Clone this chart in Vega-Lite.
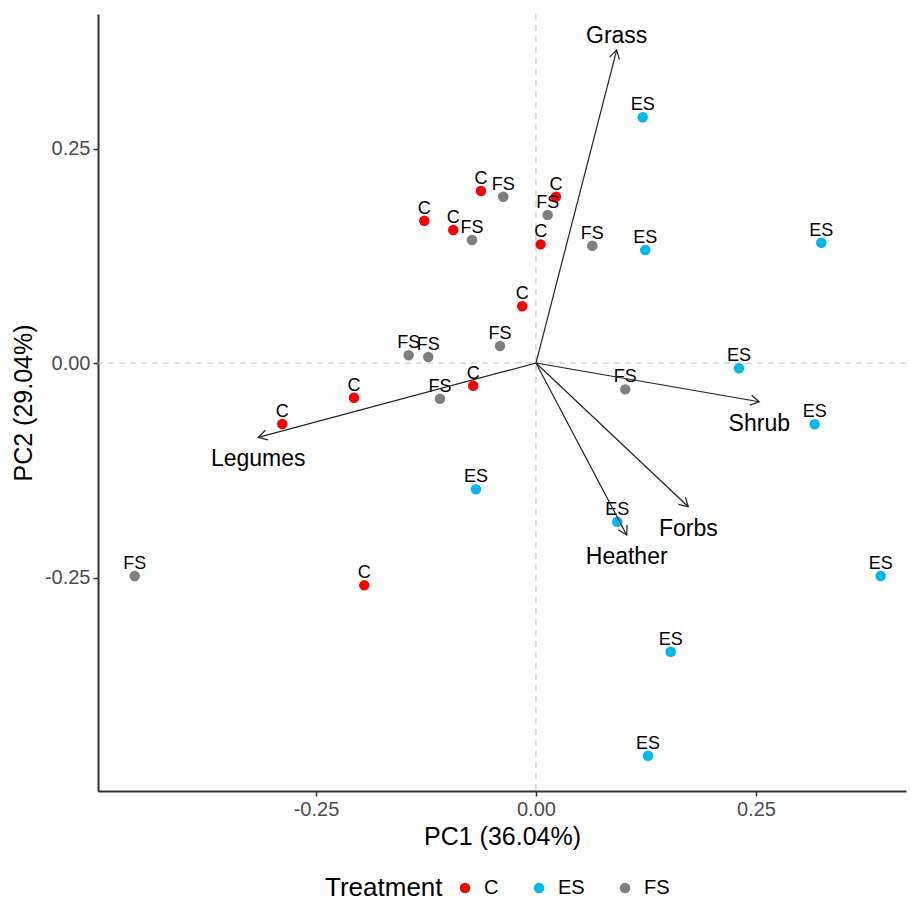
{
  "$schema": "https://vega.github.io/schema/vega-lite/v6.json",
  "width": 808,
  "height": 777,
  "autosize": {"type": "none"},
  "padding": {"left": 98, "top": 14, "right": 5, "bottom": 115},
  "background": "white",
  "config": {
    "font": "Liberation Sans",
    "view": {"stroke": null},
    "axis": {
      "grid": false,
      "domainColor": "#333333",
      "domainWidth": 2,
      "tickColor": "#333333",
      "tickWidth": 1.5,
      "tickSize": 5,
      "labelFontSize": 20,
      "labelColor": "#4D4D4D",
      "labelPadding": 3,
      "titleFontSize": 25,
      "titleFontWeight": "normal",
      "titleColor": "black"
    },
    "axisX": {"titlePadding": 5},
    "axisY": {"titlePadding": 8}
  },
  "datasets": {
    "scores": [
      {"pc1": -0.0625, "pc2": 0.2005, "Treatment": "C"},
      {"pc1": -0.1269, "pc2": 0.1658, "Treatment": "C"},
      {"pc1": -0.0940, "pc2": 0.1550, "Treatment": "C"},
      {"pc1": 0.0053, "pc2": 0.1383, "Treatment": "C"},
      {"pc1": -0.0156, "pc2": 0.0661, "Treatment": "C"},
      {"pc1": -0.0713, "pc2": -0.0265, "Treatment": "C"},
      {"pc1": -0.2068, "pc2": -0.0404, "Treatment": "C"},
      {"pc1": -0.2883, "pc2": -0.0711, "Treatment": "C"},
      {"pc1": 0.0227, "pc2": 0.1938, "Treatment": "C"},
      {"pc1": -0.1951, "pc2": -0.2591, "Treatment": "C"},
      {"pc1": -0.0372, "pc2": 0.1938, "Treatment": "FS"},
      {"pc1": -0.0727, "pc2": 0.1434, "Treatment": "FS"},
      {"pc1": -0.0409, "pc2": 0.0198, "Treatment": "FS"},
      {"pc1": -0.1447, "pc2": 0.0090, "Treatment": "FS"},
      {"pc1": -0.1224, "pc2": 0.0070, "Treatment": "FS"},
      {"pc1": -0.1091, "pc2": -0.0416, "Treatment": "FS"},
      {"pc1": 0.0133, "pc2": 0.1725, "Treatment": "FS"},
      {"pc1": 0.0640, "pc2": 0.1367, "Treatment": "FS"},
      {"pc1": 0.1015, "pc2": -0.0307, "Treatment": "FS"},
      {"pc1": -0.4560, "pc2": -0.2483, "Treatment": "FS"},
      {"pc1": 0.1213, "pc2": 0.2864, "Treatment": "ES"},
      {"pc1": 0.1242, "pc2": 0.1317, "Treatment": "ES"},
      {"pc1": 0.3242, "pc2": 0.1402, "Treatment": "ES"},
      {"pc1": 0.2307, "pc2": -0.0062, "Treatment": "ES"},
      {"pc1": 0.3167, "pc2": -0.0714, "Treatment": "ES"},
      {"pc1": 0.0924, "pc2": -0.1850, "Treatment": "ES"},
      {"pc1": 0.3917, "pc2": -0.2483, "Treatment": "ES"},
      {"pc1": 0.1531, "pc2": -0.3365, "Treatment": "ES"},
      {"pc1": 0.1273, "pc2": -0.4577, "Treatment": "ES"},
      {"pc1": -0.0682, "pc2": -0.1472, "Treatment": "ES"}
    ],
    "loadings": [
      {"var": "Grass", "pc1": 0.0917, "pc2": 0.3648},
      {"var": "Shrub", "pc1": 0.2538, "pc2": -0.0451},
      {"var": "Forbs", "pc1": 0.1731, "pc2": -0.1675},
      {"var": "Heather", "pc1": 0.1031, "pc2": -0.2005},
      {"var": "Legumes", "pc1": -0.3156, "pc2": -0.0866}
    ]
  },
  "layer": [
    {
      "data": {"values": [{"z": 0}]},
      "mark": {"type": "rule", "color": "#BEBEBE", "strokeWidth": 1, "strokeDash": [6, 5]},
      "encoding": {
        "x": {"field": "z", "type": "quantitative", "title": "PC1 (36.04%)", "scale": {"domain": [-0.4977, 0.4205], "nice": false, "zero": false}}
      }
    },
    {
      "data": {"values": [{"z": 0}]},
      "mark": {"type": "rule", "color": "#BEBEBE", "strokeWidth": 1, "strokeDash": [6, 5]},
      "encoding": {
        "y": {"field": "z", "type": "quantitative", "title": "PC2 (29.04%)", "scale": {"domain": [-0.4988, 0.4068], "nice": false, "zero": false}}
      }
    },
    {
      "data": {"name": "scores"},
      "mark": {"type": "point", "filled": true, "size": 110, "opacity": 1},
      "encoding": {
        "x": {
          "field": "pc1", "type": "quantitative", "title": "PC1 (36.04%)",
          "scale": {"domain": [-0.4977, 0.4205], "nice": false, "zero": false},
          "axis": {"values": [-0.25, 0, 0.25], "labelExpr": "datum.value < 0 ? '-' + format(-datum.value, '.2f') : format(datum.value, '.2f')"}
        },
        "y": {
          "field": "pc2", "type": "quantitative", "title": "PC2 (29.04%)",
          "scale": {"domain": [-0.4988, 0.4068], "nice": false, "zero": false},
          "axis": {"values": [-0.25, 0, 0.25], "labelExpr": "datum.value < 0 ? '-' + format(-datum.value, '.2f') : format(datum.value, '.2f')"}
        },
        "color": {
          "field": "Treatment",
          "type": "nominal",
          "scale": {"domain": ["C", "ES", "FS"], "range": ["#FF0000", "#00B9EC", "#7F7F7F"]},
          "legend": {
            "orient": "none",
            "legendX": 227,
            "legendY": 864,
            "direction": "horizontal",
            "titleOrient": "left",
            "title": "Treatment",
            "titleFontSize": 26,
            "titleFontWeight": "normal",
            "titleColor": "black",
            "titlePadding": 12,
            "labelFontSize": 20,
            "labelColor": "black",
            "symbolSize": 110,
            "symbolType": "circle",
            "symbolStrokeWidth": 0,
            "labelOffset": 9,
            "columnPadding": 30
          }
        }
      }
    },
    {
      "data": {"name": "scores"},
      "mark": {"type": "text", "fontSize": 18, "dy": -7, "baseline": "alphabetic", "align": "center", "color": "black"},
      "encoding": {
        "x": {"field": "pc1", "type": "quantitative", "title": "PC1 (36.04%)"},
        "y": {"field": "pc2", "type": "quantitative", "title": "PC2 (29.04%)"},
        "text": {"field": "Treatment"}
      }
    },
    {
      "data": {"name": "loadings"},
      "mark": {"type": "rule", "color": "#222222", "strokeWidth": 1.2},
      "encoding": {
        "x": {"field": "pc1", "type": "quantitative", "title": "PC1 (36.04%)"},
        "y": {"field": "pc2", "type": "quantitative", "title": "PC2 (29.04%)"},
        "x2": {"datum": 0},
        "y2": {"datum": 0}
      }
    },
    {
      "data": {"name": "loadings"},
      "transform": [{"calculate": "atan2(datum.pc1 * 880, datum.pc2 * 858) * 180 / PI", "as": "ang"}],
      "mark": {"type": "point", "shape": "M -0.577 1 L 0 0 L 0.577 1", "filled": false, "size": 300, "stroke": "#222222", "strokeWidth": 1.2, "opacity": 1},
      "encoding": {
        "x": {"field": "pc1", "type": "quantitative", "title": "PC1 (36.04%)"},
        "y": {"field": "pc2", "type": "quantitative", "title": "PC2 (29.04%)"},
        "angle": {"field": "ang", "type": "quantitative", "scale": null}
      }
    },
    {
      "data": {"name": "loadings"},
      "transform": [{"filter": "datum.var === 'Grass'"}],
      "mark": {"type": "text", "fontSize": 23, "dy": -7, "baseline": "alphabetic", "align": "center", "color": "black"},
      "encoding": {
        "x": {"field": "pc1", "type": "quantitative", "title": "PC1 (36.04%)"},
        "y": {"field": "pc2", "type": "quantitative", "title": "PC2 (29.04%)"},
        "text": {"field": "var"}
      }
    },
    {
      "data": {"name": "loadings"},
      "transform": [{"filter": "datum.var !== 'Grass'"}],
      "mark": {"type": "text", "fontSize": 23, "dy": 29, "baseline": "alphabetic", "align": "center", "color": "black"},
      "encoding": {
        "x": {"field": "pc1", "type": "quantitative", "title": "PC1 (36.04%)"},
        "y": {"field": "pc2", "type": "quantitative", "title": "PC2 (29.04%)"},
        "text": {"field": "var"}
      }
    }
  ]
}
